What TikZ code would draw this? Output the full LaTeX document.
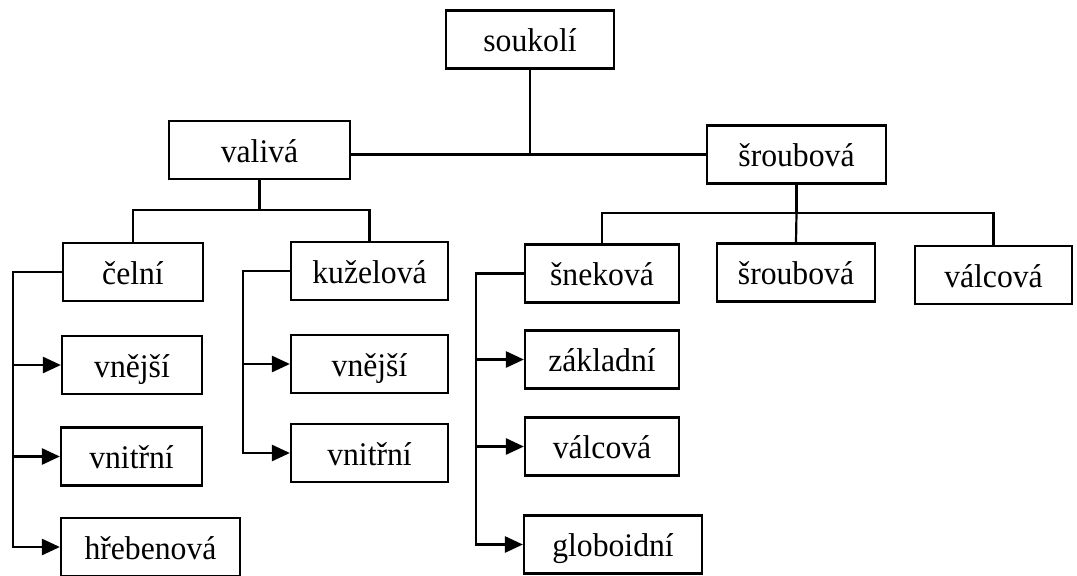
\documentclass[tikz,border=0pt]{standalone}
\usepackage{fontspec}
\setmainfont{Liberation Serif}[FakeStretch=0.96]
\usetikzlibrary{arrows.meta}
\begin{document}
\begin{tikzpicture}[x=1pt,y=-1pt,
  box/.style={draw, line width=2.2pt, inner sep=0pt, minimum height=58pt, text height=24pt, text depth=0pt, font=\fontsize{33}{36}\selectfont, anchor=center},
  conn/.style={line width=2.2pt},
  arr/.style={line width=2.6pt, -{Triangle[length=18pt,width=16pt]}}]
\useasboundingbox (0,0) rectangle (1077,576);
% level 0
\node[box, minimum width=168pt] (souk) at (530,39.5) {soukolí};
% level 1
\node[box, minimum width=181pt] (val) at (259.5,150) {valivá};
\node[box, minimum width=179pt] (srou) at (796.5,154.5) {šroubová};
% level 2 left
\node[box, minimum width=140pt] (cel) at (133,272) {čelní};
\node[box, minimum width=140pt] (vneA) at (132,365) {vnější};
\node[box, minimum width=141pt] (vniA) at (131.5,456.5) {vnitřní};
\node[box, minimum width=179pt] (hreb) at (150.5,547) {hřebenová};
\node[box, minimum width=157pt] (kuz) at (369.5,271) {kuželová};
\node[box, minimum width=157pt] (vneB) at (369.5,364) {vnější};
\node[box, minimum width=157pt] (vniB) at (369.5,453) {vnitřní};
% level 2 right
\node[box, minimum width=154pt] (sne) at (602,273.5) {šneková};
\node[box, minimum width=154pt] (zakl) at (602,359.5) {základní};
\node[box, minimum width=154pt] (valcA) at (602,446.5) {válcová};
\node[box, minimum width=178pt] (glob) at (613,544.5) {globoidní};
\node[box, minimum width=158pt] (srouB) at (796,272.5) {šroubová};
\node[box, minimum width=157pt] (valcB) at (993.5,275) {válcová};
% top connectors
\draw[conn] (souk.south) -- (souk.south |- srou.west);
\draw[conn] (val.east |- srou.west) -- (srou.west);
% valivá branch
\coordinate (vj) at (259.5,210);
\draw[conn] (val.south) -- (vj);
\draw[conn] (cel.north) |- (vj) -| (kuz.north);
% šroubová branch
\coordinate (sj) at (796.5,213);
\draw[conn] (srou.south) -- (sj);
\draw[conn] (sne.north) |- (sj) -| (valcB.north);
\draw[conn] (sj) -- (srouB.north);
% čelní list
\coordinate (la) at (13,272);
\draw[arr] (cel.west) -- (la) |- (hreb.west);
\draw[arr] (la |- vneA.west) -- (vneA.west);
\draw[arr] (la |- vniA.west) -- (vniA.west);
% kuželová list
\coordinate (lb) at (243,271);
\draw[arr] (kuz.west) -- (lb) |- (vniB.west);
\draw[arr] (lb |- vneB.west) -- (vneB.west);
% šneková list
\coordinate (lc) at (476,273.5);
\draw[arr] (sne.west) -- (lc) |- (glob.west);
\draw[arr] (lc |- zakl.west) -- (zakl.west);
\draw[arr] (lc |- valcA.west) -- (valcA.west);
\end{tikzpicture}
\end{document}
